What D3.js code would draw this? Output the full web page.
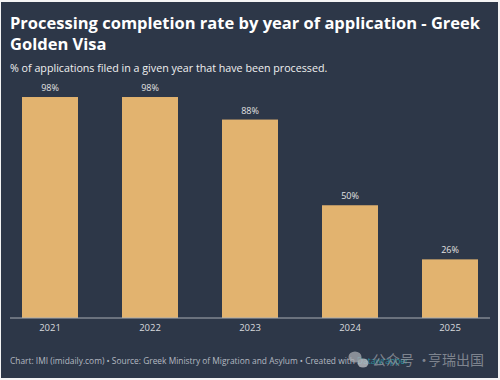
<!DOCTYPE html>
<html>
<head>
<meta charset="utf-8">
<script src="https://cdn.jsdelivr.net/npm/d3@7"></script>
<style>
html, body { margin: 0; padding: 0; background: #f4f4f4; }
svg { display: block; }
text { font-family: "Open Sans", sans-serif; }
</style>
</head>
<body>
<div id="chart"></div>
<script>
var years = ["2021", "2022", "2023", "2024", "2025"];
var rates = [98, 98, 88, 50, 26];
var titleLines = ["Processing completion rate by year of application - Greek", "Golden Visa"];
var subtitle = "% of applications filed in a given year that have been processed.";
var footer = "Chart: IMI (imidaily.com) \u2022 Source: Greek Ministry of Migration and Asylum \u2022 Created with ";
var footerLink = "Datawrapper";
var watermarkLeft = "\u516c\u4f17\u53f7";
var watermarkDot = "\u00b7";
var watermarkRight = "\u4ea8\u745e\u51fa\u56fd";

var width = 500;
var height = 380;
var baseY = 318;

var svg = d3.select("#chart")
    .append("svg")
    .attr("width", width)
    .attr("height", height);

// dark panel, leaves a thin light edge like the screenshot
svg.append("rect")
    .attr("x", 1)
    .attr("y", 2)
    .attr("width", 497)
    .attr("height", 376)
    .attr("fill", "#2d3748");

svg.selectAll(".title")
    .data(titleLines)
    .enter()
    .append("text")
    .attr("class", "title")
    .attr("x", 10)
    .attr("y", function(d, i) { return 28.5 + i * 21; })
    .attr("fill", "#ffffff")
    .style("font-size", "16.5px")
    .style("font-weight", 700)
    .text(function(d) { return d; });

svg.append("text")
    .attr("x", 10)
    .attr("y", 72)
    .attr("fill", "#f0f0f0")
    .style("font-size", "10.7px")
    .text(subtitle);

var x = d3.scaleBand()
    .domain(years)
    .range([0, 500])
    .paddingInner(0.44)
    .paddingOuter(0.22);

var y = d3.scaleLinear()
    .domain([0, 100])
    .range([baseY, baseY - 225.5]);

svg.selectAll(".bar")
    .data(rates)
    .enter()
    .append("rect")
    .attr("class", "bar")
    .attr("x", function(d, i) { return x(years[i]); })
    .attr("y", function(d) { return y(d); })
    .attr("width", x.bandwidth())
    .attr("height", function(d) { return baseY - y(d); })
    .attr("fill", "#e2b36f");

svg.selectAll(".value")
    .data(rates)
    .enter()
    .append("text")
    .attr("class", "value")
    .attr("x", function(d, i) { return x(years[i]) + x.bandwidth() / 2; })
    .attr("y", function(d) { return y(d) - 6; })
    .attr("text-anchor", "middle")
    .attr("fill", "#e2e2e2")
    .style("font-size", "9px")
    .text(function(d) { return d + "%"; });

var xAxis = svg.append("g")
    .attr("transform", "translate(0," + baseY + ")")
    .call(d3.axisBottom(x).tickSize(0).tickPadding(6));
xAxis.select(".domain").remove();
xAxis.selectAll("text")
    .attr("fill", "#d8dade")
    .style("font-family", '"Open Sans", sans-serif')
    .style("font-size", "9.5px");

svg.append("line")
    .attr("x1", 10)
    .attr("x2", 490)
    .attr("y1", baseY)
    .attr("y2", baseY)
    .attr("stroke", "#a9adb3")
    .attr("stroke-width", 1);

var foot = svg.append("text")
    .attr("x", 10)
    .attr("y", 364)
    .attr("fill", "#b4b9c1")
    .style("font-size", "8.4px")
    .text(footer);
foot.append("tspan")
    .attr("fill", "#2f8f9d")
    .text(footerLink);

// wechat style watermark on top of the footer
var mark = svg.append("g").attr("opacity", 0.75);
mark.append("ellipse")
    .attr("cx", 355).attr("cy", 357).attr("rx", 6.5).attr("ry", 5.5)
    .attr("fill", "#a8acb2");
mark.append("ellipse")
    .attr("cx", 363).attr("cy", 363).attr("rx", 5.5).attr("ry", 4.5)
    .attr("fill", "#c4c7cb");

var markText = function(txt, left) {
    mark.append("text")
        .attr("x", left)
        .attr("y", 365)
        .attr("fill", "#9a9ea6")
        .style("font-family", '"Noto Sans CJK SC", sans-serif')
        .style("font-size", "14px")
        .text(txt);
};
markText(watermarkLeft, 372);
markText(watermarkDot, 417);
markText(watermarkRight, 428);
</script>
</body>
</html>
